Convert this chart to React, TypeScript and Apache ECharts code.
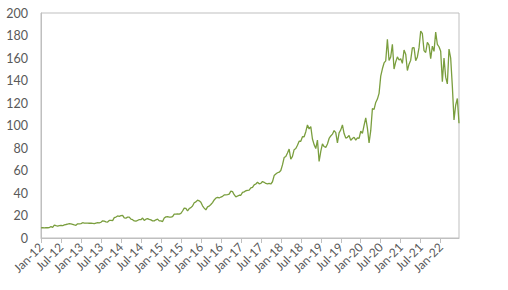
import React, { useEffect, useRef } from "react";
import * as echarts from "echarts";

// Tick labels along the date axis (every 6 months)
const xTickLabels = [
  "Jan-12", "Jul-12", "Jan-13", "Jul-13", "Jan-14", "Jul-14", "Jan-15", "Jul-15",
  "Jan-16", "Jul-16", "Jan-17", "Jul-17", "Jan-18", "Jul-18", "Jan-19", "Jul-19",
  "Jan-20", "Jul-20", "Jan-21", "Jul-21", "Jan-22",
];
const yTickValues = [0, 20, 40, 60, 80, 100, 120, 140, 160, 180, 200];

// Price values, two readings per month (start and middle of month)
const p2012 = [8.9, 9.2, 9.0, 9.1, 9.1, 9.3, 10.1, 9.5, 11.4, 10.9, 10.6, 11.0, 11.3, 10.9, 11.7, 12.0, 12.4, 12.7, 12.6, 12.2, 11.6, 11.3, 12.6, 12.5];
const p2013 = [12.8, 13.6, 13.3, 13.2, 13.2, 13.1, 13.3, 13.0, 12.7, 13.3, 13.6, 13.5, 14.0, 15.3, 15.0, 14.4, 14.2, 15.6, 15.6, 15.4, 18.1, 18.6, 19.6, 19.3];
const p2014 = [19.9, 20.2, 17.9, 17.7, 18.5, 18.5, 16.8, 16.3, 15.2, 14.9, 15.6, 16.4, 16.3, 17.7, 15.6, 16.7, 17.3, 16.6, 16.1, 15.2, 15.2, 16.2, 16.8, 15.2];
const p2015 = [15.3, 14.6, 17.8, 18.8, 19.0, 18.6, 18.6, 19.0, 21.3, 21.3, 21.5, 21.3, 21.9, 24.0, 26.6, 26.4, 24.0, 26.2, 27.0, 28.4, 31.3, 32.1, 33.6, 33.1];
const p2016 = [31.8, 28.6, 26.6, 25.0, 27.7, 28.3, 29.8, 31.5, 33.8, 35.5, 36.2, 35.6, 36.4, 37.0, 38.3, 38.4, 38.6, 39.0, 41.7, 41.2, 38.5, 36.5, 37.3, 38.0];
const p2017 = [38.0, 40.5, 41.0, 42.0, 42.3, 42.6, 44.5, 45.0, 47.2, 48.0, 49.6, 48.2, 48.5, 50.2, 49.5, 48.5, 48.2, 48.6, 48.0, 50.0, 55.5, 56.8, 58.0, 58.5];
const p2018 = [60.0, 65.0, 71.5, 72.5, 75.5, 79.0, 70.0, 72.5, 78.5, 79.5, 82.5, 86.0, 86.0, 90.0, 90.0, 94.5, 100.5, 97.0, 99.0, 88.0, 83.0, 79.5, 87.0, 68.0];
const p2019 = [77.0, 83.7, 81.3, 80.4, 83.6, 88.5, 90.7, 92.3, 95.5, 93.6, 84.6, 93.5, 96.1, 100.5, 92.8, 88.8, 89.5, 91.1, 86.8, 88.4, 89.6, 87.0, 89.0, 88.5];
const p2020 = [94.9, 93.1, 100.2, 106.7, 97.7, 84.5, 95.4, 115.0, 114.3, 120.5, 123.5, 128.6, 143.9, 150.4, 155.6, 157.4, 176.6, 157.8, 161.0, 172.2, 150.2, 156.5, 161.0, 158.2];
const p2021 = [159.4, 155.2, 167.1, 163.4, 148.9, 154.5, 158.1, 169.0, 169.3, 157.6, 160.9, 169.2, 184.0, 181.6, 166.6, 164.9, 174.0, 171.5, 159.5, 170.5, 165.9, 183.0, 172.2, 170.0];
const p2022 = [166.0, 139.0, 160.0, 143.0, 137.0, 168.0, 160.0, 135.0, 105.0, 118.0, 124.0, 102.0];

const prices = [...p2012, ...p2013, ...p2014, ...p2015, ...p2016, ...p2017, ...p2018, ...p2019, ...p2020, ...p2021, ...p2022];
const stepMonths = 0.5; // months between readings, starting Jan 2012
const monthsPerTick = 6;

export default function App() {
  const ref = useRef<HTMLDivElement>(null);
  useEffect(() => {
    if (!ref.current) return;
    const chart = echarts.init(ref.current, null, { renderer: "svg" });
    const data = prices.map((v, i) => [i * stepMonths, v]);
    const lastX = (prices.length - 1) * stepMonths;
    const tickVals = xTickLabels.map((_, i) => i * monthsPerTick);
    const font = "Lato, 'Noto Sans', sans-serif";
    chart.setOption({
      animation: false,
      grid: {
        left: 41,
        right: 49,
        top: 13,
        bottom: 52,
        show: true,
        borderColor: "#bfbfbf",
        borderWidth: 1,
        backgroundColor: "transparent",
      },
      xAxis: {
        type: "value",
        min: 0,
        max: lastX,
        splitLine: { show: false },
        axisLine: { show: true, lineStyle: { color: "#bfbfbf", width: 1 } },
        axisTick: {
          show: true,
          length: 5,
          lineStyle: { color: "#bfbfbf" },
          customValues: tickVals,
        },
        axisLabel: {
          rotate: 45,
          margin: 7,
          color: "#595959",
          fontFamily: font,
          fontSize: 12,
          customValues: tickVals,
          formatter: (v: number) => xTickLabels[Math.round(v / monthsPerTick)] ?? "",
        },
      },
      yAxis: {
        type: "value",
        min: yTickValues[0],
        max: yTickValues[yTickValues.length - 1],
        interval: 20,
        splitLine: { show: false },
        axisLine: { show: true, lineStyle: { color: "#bfbfbf", width: 1 } },
        axisTick: { show: false },
        axisLabel: {
          margin: 13,
          color: "#595959",
          fontFamily: font,
          fontSize: 12.5,
        },
      },
      series: [
        {
          type: "line",
          data,
          showSymbol: false,
          symbol: "none",
          lineStyle: { color: "#7a9e3e", width: 1.3 },
          emphasis: { disabled: true },
        },
      ],
    });
    return () => chart.dispose();
  }, []);
  return (
    <div
      ref={ref}
      style={{ position: "absolute", left: 0, top: 0, width: 508, height: 290, background: "#fff" }}
    />
  );
}
